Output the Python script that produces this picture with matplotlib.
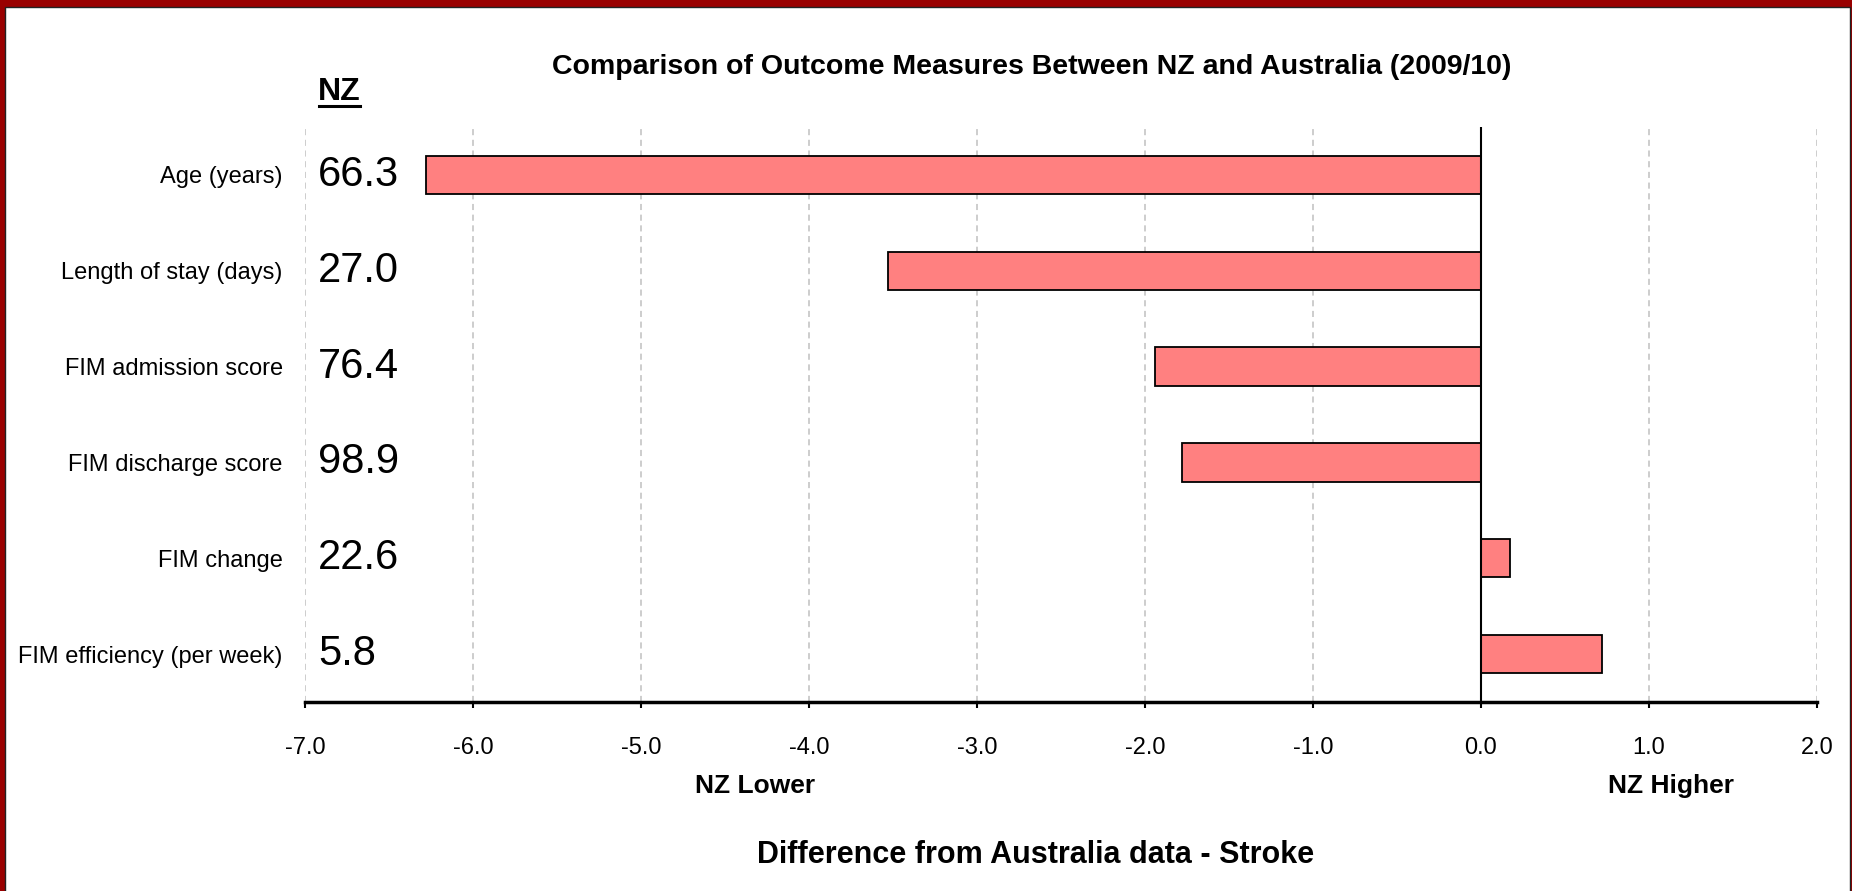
import numpy as np
import matplotlib
matplotlib.use("Agg")
import matplotlib.pyplot as plt
from matplotlib.patches import Rectangle
from matplotlib.lines import Line2D
from matplotlib.ticker import FormatStrFormatter

plt.rcParams['font.family'] = ['Liberation Sans', 'DejaVu Sans']
plt.rcParams['axes.unicode_minus'] = False

# data
measures = ['Age (years)', 'Length of stay (days)', 'FIM admission score',
            'FIM discharge score', 'FIM change', 'FIM efficiency (per week)']
nz_values = ['66.3', '27.0', '76.4', '98.9', '22.6', '5.8']
diff = [-6.28, -3.53, -1.94, -1.78, 0.17, 0.72]
x_ticks = [-7.0, -6.0, -5.0, -4.0, -3.0, -2.0, -1.0, 0.0, 1.0, 2.0]

W, H = 1852, 891
fig = plt.figure(figsize=(W / 100, H / 100), dpi=100)
fig.patch.set_facecolor('#990000')
# white card inside the red frame
fig.patches.append(Rectangle((4.5 / W, -0.01), (1850 - 4.5) / W, (H - 6.5) / H + 0.01,
                             transform=fig.transFigure, facecolor='white',
                             edgecolor='#222222', linewidth=1.0, zorder=-10))

ax = fig.add_axes([305 / W, 1 - 702 / H, 1512 / W, 575 / H])
ax.set_facecolor('none')
ax.set_zorder(2)

y = np.arange(len(measures))
ax.barh(y, diff, height=0.4, color='#FF8080', edgecolor='black', linewidth=1.3, zorder=3)

ax.set_xlim(-7, 2)
ax.set_ylim(len(measures) - 0.5, -0.5)
ax.set_xticks(x_ticks)
ax.xaxis.set_major_formatter(FormatStrFormatter('%.1f'))
ax.set_yticks(y)
ax.set_yticklabels(measures, fontsize=17)
ax.tick_params(axis='y', length=0, pad=16)
ax.tick_params(axis='x', direction='out', length=4.5, width=1.5, labelsize=17, pad=20.5)

for s in ['top', 'right', 'left']:
    ax.spines[s].set_visible(False)
ax.spines['bottom'].set_linewidth(2.5)

ax.grid(axis='x', color='#c0c0c0', linestyle=(0, (4, 3)), linewidth=1.1, zorder=0)
ax.axvline(0, color='black', linewidth=1.5, zorder=4)

# NZ raw values next to the labels
for i, v in enumerate(nz_values):
    ax.text(0.0086, i, v, transform=ax.get_yaxis_transform(), fontsize=30,
            ha='left', va='center', zorder=5)

nz = ax.text(0.0086, 1.047, 'NZ', transform=ax.transAxes, fontsize=23,
             fontweight='bold', ha='left', va='baseline')

fig.text(1031.5 / W, 1 - 67 / H, 'Comparison of Outcome Measures Between NZ and Australia (2009/10)',
         fontsize=20.5, fontweight='bold', ha='center', va='center')
ax.text(0.2976, -0.158, 'NZ Lower', transform=ax.transAxes, fontsize=19,
        fontweight='bold', ha='center', va='baseline')
ax.text(0.9034, -0.158, 'NZ Higher', transform=ax.transAxes, fontsize=19,
        fontweight='bold', ha='center', va='baseline')
fig.text(1036 / W, 1 - 855 / H, 'Difference from Australia data - Stroke',
         fontsize=22, fontweight='bold', ha='center', va='center')

# underline under "NZ"
fig.canvas.draw()
bb = nz.get_window_extent()
fig.add_artist(Line2D([bb.x0 + 1, bb.x1 - 1], [bb.y0 + 1, bb.y0 + 1], transform=None,
                      color='black', linewidth=2.2))

fig.savefig('out.png', dpi=100, facecolor=fig.get_facecolor())
